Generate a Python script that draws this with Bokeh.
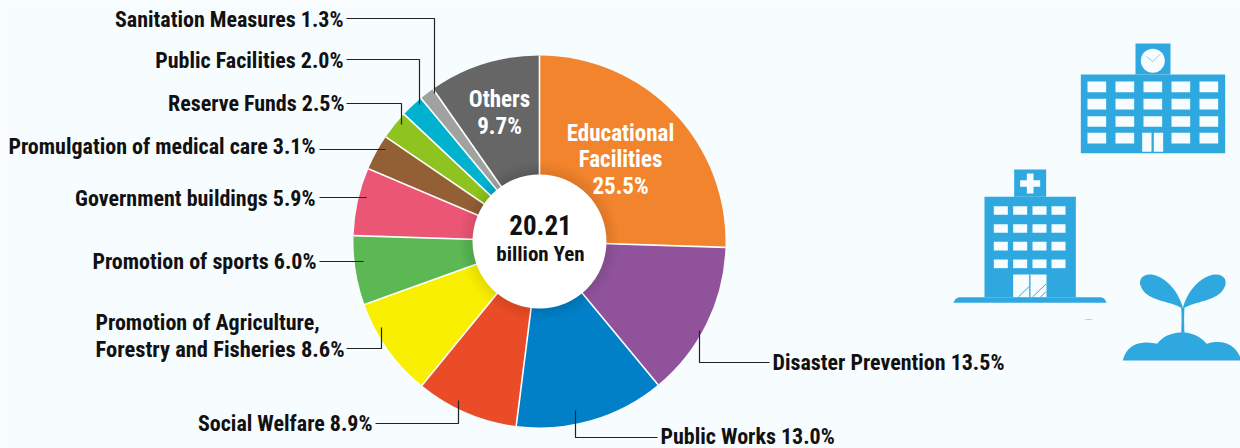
import numpy as np
from bokeh.core.properties import value
from bokeh.embed import file_html
from bokeh.models import ColumnDataSource, Range1d
from bokeh.plotting import figure
from bokeh.resources import INLINE

# Budget breakdown, clockwise from twelve o'clock
categories = ["Educational Facilities", "Disaster Prevention", "Public Works", "Social Welfare",
              "Promotion of Agriculture, Forestry and Fisheries", "Promotion of sports",
              "Government buildings", "Promulgation of medical care", "Reserve Funds",
              "Public Facilities", "Sanitation Measures", "Others"]
shares = [25.5, 13.5, 13.0, 8.9, 8.6, 6.0, 5.9, 3.1, 2.5, 2.0, 1.3, 9.7]
colors = ["#F2842D", "#90539B", "#0180C8", "#EA4C28", "#F9EF00", "#5BB853",
          "#EA5674", "#936035", "#8FC31F", "#00B2CE", "#A0A2A0", "#666666"]
total_text = "20.21"
unit_text = "billion Yen"

W, H = 1240, 448
BG = "#F7FCFF"
ICON = "#2FA8E0"
FONT = "Roboto Condensed"
CX, CY, R_OUT, R_IN = 539, 241, 186, 67


def Y(py):
    return H - np.asarray(py, dtype=float)


p = figure(width=W, height=H, output_backend="svg", toolbar_location=None,
           x_range=Range1d(0, W), y_range=Range1d(0, H), min_border=0,
           background_fill_color=BG, border_fill_color=BG, outline_line_color=None)
p.axis.visible = False
p.grid.visible = False

# Ring slices
edges = np.pi / 2 - np.concatenate([[0], np.cumsum(shares)]) / 100 * 2 * np.pi
ring = ColumnDataSource(dict(start=edges[1:], end=edges[:-1], color=colors))
p.annular_wedge(x=CX, y=Y(CY), inner_radius=0, outer_radius=R_OUT, start_angle="start", end_angle="end",
                direction="anticlock", fill_color="color", line_color=None, source=ring)
p.segment(x0=CX, y0=float(Y(CY)), x1=CX + R_OUT * np.cos(edges[:-1]),
          y1=float(Y(CY)) + R_OUT * np.sin(edges[:-1]), line_color="white", line_width=1.6)

# Soft shadow under the central disc, then the disc itself
for r in range(80, R_IN, -2):
    p.circle(x=CX, y=Y(CY), radius=r, fill_color="black", fill_alpha=0.012, line_color=None)
p.circle(x=CX, y=Y(CY), radius=R_IN, fill_color="white", line_color=None)


def put(x, py, txt, size=22, color="#111111", align="right", font=FONT):
    p.text(x=[x], y=[float(Y(py))], text=[txt], text_font=value(font), text_font_style="bold",
           text_font_size=f"{size}px", text_color=color, text_align=align, text_baseline="middle")


def pct(i):
    return f"{shares[i]:.1f}%"


put(CX + 1, 224, total_text, size=27, align="center")
put(CX + 1, 253, unit_text, size=21, align="center")

put(620, 133, "Educational", color="white", align="center", size=23)
put(620, 159, "Facilities", color="white", align="center", size=23)
put(620, 186, pct(0), color="white", align="center", size=23)
put(499, 99, categories[11], color="white", align="center", size=23)
put(499, 126, pct(11), color="white", align="center", size=23)

put(343, 19, f"{categories[10]} {pct(10)}")
put(343, 60, f"{categories[9]} {pct(9)}")
put(344, 103, f"{categories[8]} {pct(8)}")
put(315, 146, f"{categories[7]} {pct(7)}")
put(315, 198, f"{categories[6]} {pct(6)}")
put(316, 261, f"{categories[5]} {pct(5)}")
put(95, 322, "Promotion of Agriculture,", align="left")
put(95, 348, f"Forestry and Fisheries {pct(4)}", align="left", size=22.5)
put(372, 423, f"{categories[3]} {pct(3)}")
put(660, 436, f"{categories[2]} {pct(2)}", align="left")
put(772, 362, f"{categories[1]} {pct(1)}", align="left")

# Leader lines between labels and slices
leaders = [([346, 434, 434], [18, 18, 93]), ([346, 419, 419], [59, 59, 104]),
           ([346, 401, 401], [103, 103, 124]), ([319, 385], [149, 149]),
           ([319, 366], [197, 197]), ([319, 363], [261, 261]),
           ([346, 381, 381], [348, 348, 327]), ([375, 458, 458], [423, 423, 400]),
           ([657, 575, 575], [437, 437, 410]), ([769, 699, 699], [362, 362, 330])]
for xs, ys in leaders:
    p.line(xs, Y(ys), line_color="#222222", line_width=1.2)


# Icon helpers: coordinates are measured in a 3x working grid anchored at (940, 30)
def gx(v):
    return 940 + np.asarray(v, dtype=float) / 3


def gy(v):
    return 30 + np.asarray(v, dtype=float) / 3


def rect(x0, x1, y0, y1, color=ICON):
    p.quad(left=float(gx(x0)), right=float(gx(x1)), top=float(Y(gy(y0))), bottom=float(Y(gy(y1))),
           fill_color=color, line_color=None)


def poly(xs, ys, color=ICON):
    p.patch(gx(xs), Y(gy(ys)), fill_color=color, line_color=None)


def bez(a, b, c, d, n=24):
    t = np.linspace(0, 1, n)[:, None]
    a, b, c, d = map(np.asarray, (a, b, c, d))
    return (1 - t) ** 3 * a + 3 * (1 - t) ** 2 * t * b + 3 * (1 - t) * t ** 2 * c + t ** 3 * d


def shape(*curves, color=ICON):
    pts = np.vstack(curves)
    poly(pts[:, 0], pts[:, 1], color)


# School
rect(421, 854, 132, 368)
rect(585, 690, 39, 132)
p.circle(x=float(gx(637)), y=float(Y(gy(91))), radius=12, fill_color=BG, line_color=None)
p.line(gx([618, 637, 660]), Y(gy([78, 93, 70])), line_color="#8FD0EE", line_width=1)
for x0 in (441, 525, 609, 693, 777):
    for y0 in (153, 205, 257, 307):
        if x0 == 609 and y0 == 307:
            continue
        rect(x0, x0 + 56, y0, y0 + 32, BG)
rect(605, 633, 307, 364, BG)
rect(640, 668, 307, 364, BG)

# Hospital
rect(132, 406, 499, 800)
rect(221, 317, 417, 499)
rect(259, 279, 429, 489, BG)
rect(239, 299, 449, 469, BG)
for x0 in (160, 218, 276, 333):
    for y0 in (527, 581, 634, 687):
        rect(x0, x0 + 42, y0, y0 + 26, BG)
rect(218, 318, 732, 800, BG)
rect(266, 270, 732, 800)
for a, b in (((233, 800), (266, 768)), ((276, 800), (317, 760)), ((300, 800), (317, 783))):
    p.line(gx([a[0], b[0]]), Y(gy([a[1], b[1]])), line_color=ICON, line_width=1)
shape(bez((39, 817), (42, 806), (50, 800), (62, 800), 10),
      bez((476, 800), (488, 800), (495, 806), (498, 817), 10))
shape(bez((430, 868), (438, 866), (450, 866), (458, 868), 8))

# Sprout
shape(bez((727, 832), (712, 775), (665, 732), (628, 732)),
      bez((628, 732), (602, 732), (592, 752), (603, 772)),
      bez((603, 772), (622, 812), (690, 812), (722, 832)),
      bez((722, 832), (724, 860), (723, 885), (722, 910), 6),
      bez((732, 910), (731, 885), (730, 860), (732, 832), 6))
shape(bez((727, 832), (742, 775), (789, 732), (826, 732)),
      bez((826, 732), (852, 732), (862, 752), (851, 772)),
      bez((851, 772), (832, 812), (764, 812), (732, 832)))
shape(bez((547, 990), (556, 950), (590, 926), (650, 940)),
      bez((650, 940), (680, 897), (760, 892), (798, 940)),
      bez((798, 940), (850, 922), (892, 948), (902, 990)))

open("out.html", "w").write(file_html(p, INLINE))
